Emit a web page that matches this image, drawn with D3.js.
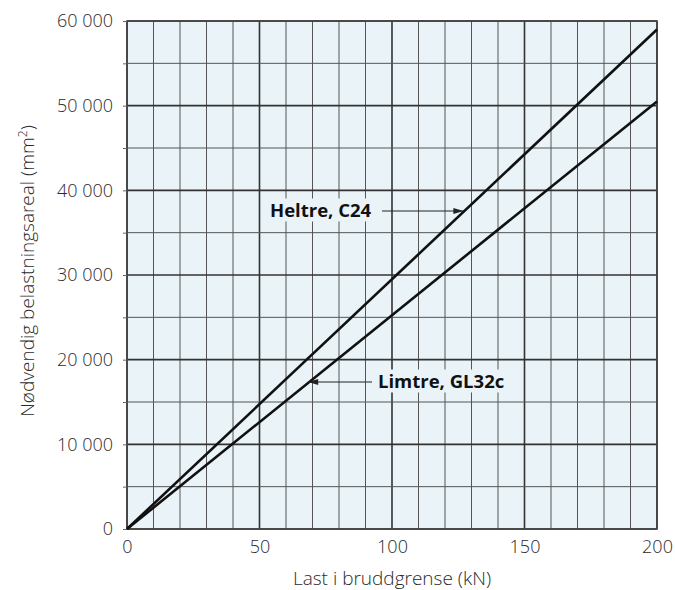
<!DOCTYPE html>
<html><head><meta charset="utf-8">
<script src="https://cdn.jsdelivr.net/npm/d3@7"></script>
<style>body{margin:0;background:#fff;} svg{display:block;}</style>
</head><body>
<svg id="chart" width="675" height="590"></svg>
<script>
const loads = [0, 200];                 // kN
const heltreC24 = [0, 59000];           // mm²
const limtreGL32c = [0, 50500];         // mm²
const xTicks = [0, 50, 100, 150, 200];
const yTicks = [0, 10000, 20000, 30000, 40000, 50000, 60000];
const xMinor = d3.range(0, 201, 10);
const yMinor = d3.range(0, 60001, 5000);
const seriesNames = ["Heltre, C24", "Limtre, GL32c"];

const svg = d3.select("#chart");
const m = {l: 127, r: 657, t: 21, b: 529};
const x = d3.scaleLinear().domain([0, 200]).range([m.l, m.r]);
const y = d3.scaleLinear().domain([0, 60000]).range([m.b, m.t]);
const bg = "#e9f3f8";
const font = "'Open Sans', 'Noto Sans', sans-serif";

svg.append("rect").attr("x", m.l).attr("y", m.t).attr("width", m.r - m.l).attr("height", m.b - m.t).attr("fill", bg);

// grid
svg.append("g").selectAll("line").data(xMinor).join("line")
  .attr("x1", d => x(d)).attr("x2", d => x(d)).attr("y1", m.t).attr("y2", m.b)
  .attr("stroke", d => d % 50 === 0 ? "#333" : "#555").attr("stroke-width", d => d % 50 === 0 ? 1.6 : 1);
svg.append("g").selectAll("line").data(yMinor).join("line")
  .attr("y1", d => y(d)).attr("y2", d => y(d)).attr("x1", m.l).attr("x2", m.r)
  .attr("stroke", d => d % 10000 === 0 ? "#333" : "#555").attr("stroke-width", d => d % 10000 === 0 ? 1.6 : 1);

svg.append("rect").attr("x", m.l).attr("y", m.t).attr("width", m.r - m.l).attr("height", m.b - m.t)
  .attr("fill", "none").attr("stroke", "#444").attr("stroke-width", 1.6);

// axes
const yAxis = svg.append("g").attr("transform", `translate(${m.l},0)`)
  .call(d3.axisLeft(y).tickValues(yMinor).tickSize(4).tickPadding(10)
    .tickFormat(d => yTicks.includes(d) ? d3.format(",")(d).replace(/,/g, " ") : ""));
yAxis.select(".domain").remove();
yAxis.selectAll("line").attr("stroke", "#666");
yAxis.selectAll("text").attr("font-family", font).attr("font-size", 18).attr("font-weight", 300).attr("fill", "#2a2a2a");

const xAxis = svg.append("g").attr("transform", `translate(0,${m.b})`)
  .call(d3.axisBottom(x).tickValues(xTicks).tickSize(0).tickPadding(11));
xAxis.select(".domain").remove();
xAxis.selectAll("text").attr("font-family", font).attr("font-size", 18).attr("font-weight", 300).attr("fill", "#2a2a2a");

svg.append("text").attr("x", 392).attr("y", 585).attr("text-anchor", "middle")
  .attr("font-family", font).attr("font-size", 19).attr("font-weight", 300).attr("fill", "#2a2a2a")
  .text("Last i bruddgrense (kN)");
const yt = svg.append("text").attr("transform", `translate(34,${(m.t + m.b) / 2 - 4}) rotate(-90)`).attr("text-anchor", "middle")
  .attr("font-family", font).attr("font-size", 19).attr("font-weight", 300).attr("fill", "#2a2a2a");
yt.append("tspan").text("Nødvendig belastningsareal (mm");
yt.append("tspan").text("2").attr("dy", -7).attr("font-size", 12);
yt.append("tspan").text(")").attr("dy", 7);

// lines
const line = d3.line().x((d, i) => x(loads[i])).y(d => y(d));
[heltreC24, limtreGL32c].forEach(s => {
  svg.append("path").datum(s).attr("d", line).attr("fill", "none").attr("stroke", "#111").attr("stroke-width", 2.6);
});

// annotations
svg.append("defs").append("marker").attr("id", "ah").attr("viewBox", "0 0 10 6").attr("refX", 10).attr("refY", 3)
  .attr("markerWidth", 11).attr("markerHeight", 6).attr("markerUnits", "userSpaceOnUse").attr("orient", "auto")
  .append("path").attr("d", "M0,0 L10,3 L0,6 Z").attr("fill", "#222");

function annotate(label, tx, ty, lineX1, series) {
  const val = y.invert(ty);
  const load = val / (series[1] / loads[1]);
  const tipX = x(load);
  const g = svg.append("g");
  const r = g.append("rect").attr("fill", bg);
  const t = g.append("text").attr("x", tx).attr("y", ty).attr("dy", "0.35em")
    .attr("font-family", font).attr("font-size", 18.5).attr("font-weight", 700).attr("fill", "#111").text(label);
  const bb = t.node().getBBox();
  r.attr("x", bb.x - 4).attr("y", bb.y + 1).attr("width", bb.width + 8).attr("height", bb.height - 2);
  g.append("line").attr("x1", lineX1).attr("x2", tipX - 1).attr("y1", ty).attr("y2", ty)
    .attr("stroke", "#222").attr("stroke-width", 1).attr("marker-end", "url(#ah)");
}
annotate(seriesNames[0], 270, 211, 382, heltreC24);
annotate(seriesNames[1], 378, 382, 372, limtreGL32c);
</script>
</body></html>
